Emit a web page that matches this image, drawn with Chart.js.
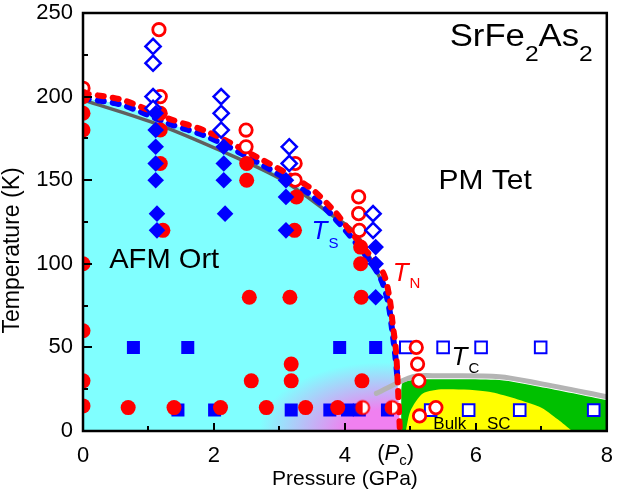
<!DOCTYPE html>
<html lang="en">
<head>
<meta charset="UTF-8">
<title>SrFe2As2 phase diagram</title>
<script src="https://cdn.jsdelivr.net/npm/chart.js"></script>
<style>
  html, body { margin: 0; padding: 0; background: #fff; }
</style>
</head>
<body>
<canvas id="phaseChart" width="617" height="494"></canvas>
<script>
const FONT = "'Liberation Sans', Arial, Helvetica, sans-serif";

// axis ticks
const xTicks = [0, 2, 4, 6, 8];
const yTicks = [0, 50, 100, 150, 200, 250];

// phase boundaries [pressure GPa, temperature K]
const tnLine = [[0, 202], [0.6, 198], [1.3, 187], [1.9, 179], [2.65, 164], [3.45, 146], [3.85, 131], [4.07, 120], [4.3, 109], [4.58, 95], [4.68, 80], [4.73, 64], [4.78, 48], [4.81, 26], [4.84, 0]];
const tsLine = [[0, 199], [0.6, 195], [1.3, 184], [1.9, 176], [2.65, 161], [3.45, 142], [3.85, 127], [4.3, 106], [4.55, 91], [4.66, 77], [4.72, 61], [4.77, 45], [4.8, 33]];
const greyLine = [[0, 198], [1.1, 184], [2.14, 167], [3.05, 150], [3.77, 130], [4.17, 118], [4.53, 92]];
const tcLine = [[4.48, 22.5], [5.04, 32.5], [5.44, 33], [6.36, 32.5], [6.97, 28.5], [8, 20.5]];

// filled regions
const afmEdge = [[0, 199], [0.6, 195], [1.3, 184], [1.9, 176], [2.65, 161], [3.45, 142], [3.85, 127], [4.3, 106], [4.55, 91], [4.66, 77], [4.72, 61], [4.77, 45], [4.81, 26], [4.84, 0]];
const scEdge = [[4.86, 0], [4.87, 28], [5.04, 30.5], [5.44, 31], [6.36, 30.5], [6.97, 26.5], [8, 18.5]];
const bulkEdge = [[4.93, 0], [5.0, 12], [5.19, 22.5], [5.5, 25], [6.2, 23.5], [6.97, 14.5], [7.25, 7], [7.47, 0]];

// markers
const tnOpen = [[0, 205], [1.16, 240], [1.18, 200], [2.49, 180], [2.49, 170], [3.24, 160], [3.24, 150], [4.21, 140], [4.21, 130], [4.22, 120], [5.09, 50], [5.11, 40], [5.13, 30], [5.39, 14], [5.14, 9]];
const tnFilled = [[0, 200], [0, 190], [0, 180], [0, 100], [0, 60], [0, 30], [0, 15], [1.18, 190], [1.18, 180], [1.18, 160], [1.22, 120], [2.5, 160], [2.5, 150], [3.26, 140], [3.23, 120], [2.54, 80], [3.16, 80], [4.24, 110], [4.24, 100], [4.25, 80], [3.18, 40], [3.18, 30], [2.57, 30], [4.26, 30], [0.69, 14], [1.39, 14], [2.1, 14], [2.8, 14], [3.4, 14], [3.89, 14]];
const tnHalf = [[4.27, 14], [4.72, 14]];
const tsFilled = [[1.11, 190], [1.11, 180], [1.11, 170], [1.11, 160], [1.11, 150], [1.13, 130], [1.13, 120], [2.15, 170], [2.15, 160], [2.15, 150], [2.17, 130], [3.1, 150], [3.1, 140], [3.1, 120], [4.47, 110], [4.47, 100], [4.47, 80]];
const tsOpen = [[1.07, 230], [1.07, 220], [1.07, 200], [1.07, 193], [2.11, 200], [2.11, 190], [2.11, 180], [3.15, 170], [3.15, 160], [4.43, 130], [4.43, 120]];
const scFilled = [[0.77, 50], [1.6, 50], [3.92, 50], [4.47, 50], [1.45, 12.5], [2.01, 12.5], [3.18, 12.5], [3.77, 12.5], [4.04, 12.5], [4.22, 12.5], [4.65, 12.5]];
const scOpen = [[4.93, 50], [5.5, 50], [6.08, 50], [6.99, 50], [5.31, 12.5], [5.89, 12.5], [6.67, 12.5], [7.8, 12.5]];

const RED = '#ff0000';
const BLUE = '#0000ff';
const CYAN = '#80ffff';
const PINK = '#f080f0';

const pts = arr => arr.map(p => ({ x: p[0], y: p[1] }));

// half filled circle marker
function halfCircle() {
  const c = document.createElement('canvas');
  c.width = 18; c.height = 18;
  const g = c.getContext('2d');
  g.beginPath(); g.arc(9, 9, 7, 0, Math.PI * 2); g.fillStyle = '#fff'; g.fill();
  g.beginPath(); g.moveTo(9, 9); g.arc(9, 9, 7, Math.PI / 2, Math.PI * 1.5); g.closePath();
  g.fillStyle = RED; g.fill();
  g.beginPath(); g.arc(9, 9, 6.5, 0, Math.PI * 2); g.lineWidth = 2; g.strokeStyle = RED; g.stroke();
  return c;
}

// cyan fill with the pink glow near the bottom
let afmPattern = null, afmKey = '';
function afmFill(context) {
  const chart = context.chart;
  const a = chart.chartArea;
  if (!a || !chart.scales.x) return CYAN;
  const key = [a.left, a.top, a.right, a.bottom].join(',');
  if (afmPattern && key === afmKey) return afmPattern;
  const off = document.createElement('canvas');
  off.width = chart.width; off.height = chart.height;
  const g = off.getContext('2d');
  g.fillStyle = CYAN;
  g.fillRect(0, 0, off.width, off.height);
  const cx = chart.scales.x.getPixelForValue(4.6);
  const cy = chart.scales.y.getPixelForValue(0);
  g.translate(cx, cy);
  g.scale(1, 0.55);
  const rg = g.createRadialGradient(0, 0, 0, 0, 0, 125);
  rg.addColorStop(0, PINK);
  rg.addColorStop(0.3, PINK);
  rg.addColorStop(1, CYAN);
  g.fillStyle = rg;
  g.fillRect(-130, -240, 260, 250);
  afmPattern = chart.ctx.createPattern(off, 'no-repeat');
  afmKey = key;
  return afmPattern;
}

// text with sub/superscript pieces, optional horizontal stretch
function rich(ctx, x, y, parts, sx) {
  ctx.save();
  ctx.translate(x, y);
  ctx.scale(sx || 1, 1);
  ctx.textAlign = 'left';
  ctx.textBaseline = 'alphabetic';
  let cx = 0;
  for (const p of parts) {
    ctx.font = (p.italic ? 'italic ' : '') + p.size + 'px ' + FONT;
    ctx.fillStyle = p.color || '#000';
    ctx.fillText(p.t, cx, p.dy || 0);
    cx += ctx.measureText(p.t).width + (p.gap || 0);
  }
  ctx.restore();
}

const decor = {
  id: 'decor',
  afterDraw(chart) {
    const { ctx, chartArea: a, scales: { x, y } } = chart;
    ctx.save();
    // inward ticks
    ctx.strokeStyle = '#000';
    ctx.lineWidth = 2;
    ctx.beginPath();
    for (let v = 0; v <= 8; v++) {
      const px = Math.round(x.getPixelForValue(v));
      const len = v % 2 === 0 ? 8 : 5;
      ctx.moveTo(px, a.bottom);
      ctx.lineTo(px, a.bottom - len);
    }
    for (let v = 0; v <= 250; v += 25) {
      const py = Math.round(y.getPixelForValue(v));
      const len = v % 50 === 0 ? 9 : 5;
      ctx.moveTo(a.left, py);
      ctx.lineTo(a.left + len, py);
    }
    ctx.stroke();
    ctx.lineWidth = 2.5;
    ctx.strokeRect(a.left, a.top, a.right - a.left, a.bottom - a.top);

    const X = v => x.getPixelForValue(v);
    const Y = v => y.getPixelForValue(v);

    rich(ctx, X(5.6), Y(230), [
      { t: 'SrFe', size: 31 }, { t: '2', size: 22, dy: 15 },
      { t: 'As', size: 31 }, { t: '2', size: 22, dy: 15 }
    ], 1.12);
    rich(ctx, X(5.43), Y(145), [{ t: 'PM Tet', size: 28 }], 1.07);
    rich(ctx, X(0.4), Y(97.5), [{ t: 'AFM Ort', size: 28 }], 1.04);
    rich(ctx, X(3.49), Y(115), [
      { t: 'T', size: 26, italic: true, color: BLUE, gap: 1 }, { t: 'S', size: 15, dy: 9, color: BLUE }
    ]);
    rich(ctx, X(4.73), Y(90), [
      { t: 'T', size: 26, italic: true, color: RED, gap: 1 }, { t: 'N', size: 15, dy: 7, color: RED }
    ]);
    rich(ctx, X(5.63), Y(39.5), [
      { t: 'T', size: 26, italic: true, gap: 1 }, { t: 'C', size: 15, dy: 8 }
    ]);
    rich(ctx, X(5.35), Y(1.2), [{ t: 'Bulk', size: 17 }]);
    rich(ctx, X(6.17), Y(1.2), [{ t: 'SC', size: 17 }]);
    // (Pc) below the axis
    rich(ctx, X(4.8) - 20, a.bottom + 29, [
      { t: '(', size: 22 }, { t: 'P', size: 22, italic: true }, { t: 'c', size: 15, dy: 5 }, { t: ')', size: 22 }
    ]);

    // y axis title
    ctx.translate(13, Y(108));
    ctx.rotate(-Math.PI / 2);
    ctx.font = '23px ' + FONT;
    ctx.fillStyle = '#000';
    ctx.textAlign = 'center';
    ctx.textBaseline = 'middle';
    ctx.fillText('Temperature (K)', 0, 0);
    ctx.restore();
  }
};

const fillSet = (data, color, order) => ({
  type: 'line', data: pts(data), fill: 'origin', backgroundColor: color,
  borderColor: 'rgba(0,0,0,0)', borderWidth: 1, pointRadius: 0, tension: 0.25, order
});
const lineSet = (data, color, width, dash, order) => ({
  type: 'line', data: pts(data), fill: false, borderColor: color, borderWidth: width,
  borderDash: dash, borderCapStyle: 'round', pointRadius: 0, tension: 0.3, order
});
const markSet = (data, style, radius, fillColor, edgeColor, edgeWidth, order) => ({
  type: 'scatter', data: pts(data), pointStyle: style, pointRadius: radius,
  pointHoverRadius: radius, backgroundColor: fillColor, borderColor: edgeColor,
  borderWidth: edgeWidth, order
});

new Chart(document.getElementById('phaseChart'), {
  type: 'scatter',
  data: {
    datasets: [
      fillSet(afmEdge, afmFill, 20),
      fillSet(scEdge, '#00c000', 19),
      fillSet(bulkEdge, '#ffff00', 18),
      lineSet(greyLine, '#606060', 3.5, [], 17),
      lineSet(tcLine, '#b4b4b4', 5, [], 16),
      lineSet(tsLine, BLUE, 6, [6, 9], 15),
      lineSet(tnLine, RED, 6, [6, 9], 14),
      markSet(scOpen, 'rect', 8.2, '#fff', BLUE, 2, 9),
      markSet(scFilled, 'rect', 9.2, BLUE, BLUE, 0, 8),
      markSet(tnOpen, 'circle', 6.2, '#fff', RED, 2.8, 7),
      markSet(tnHalf, halfCircle(), 9, RED, RED, 0, 6),
      markSet(tnFilled, 'circle', 7.5, RED, RED, 0, 5),
      markSet(tsOpen, 'rectRot', 7.6, '#fff', BLUE, 2.5, 4),
      markSet(tsFilled, 'rectRot', 8.3, BLUE, BLUE, 0, 3)
    ]
  },
  options: {
    responsive: false,
    animation: false,
    events: [],
    layout: { padding: { top: 13, right: 9, left: 0, bottom: 0 } },
    plugins: { legend: { display: false }, tooltip: { enabled: false } },
    scales: {
      x: {
        type: 'linear', min: 0, max: 8,
        afterBuildTicks: s => { s.ticks = xTicks.map(v => ({ value: v })); },
        afterFit: s => { s.height = 63; s.paddingLeft = 0; s.paddingRight = 0; },
        grid: { display: false, drawTicks: false },
        border: { display: false },
        ticks: { font: { family: FONT, size: 22 }, color: '#000', padding: 12, maxRotation: 0 },
        title: { display: true, text: 'Pressure (GPa)', color: '#000', font: { family: FONT, size: 21 }, padding: { top: 0, bottom: 2 } }
      },
      y: {
        type: 'linear', min: 0, max: 250,
        afterBuildTicks: s => { s.ticks = yTicks.map(v => ({ value: v })); },
        afterFit: s => { s.width = 83; s.paddingTop = 0; s.paddingBottom = 0; },
        grid: { display: false, drawTicks: false },
        border: { display: false },
        ticks: { font: { family: FONT, size: 22 }, color: '#000', padding: 10 }
      }
    }
  },
  plugins: [decor]
});
</script>
</body>
</html>
